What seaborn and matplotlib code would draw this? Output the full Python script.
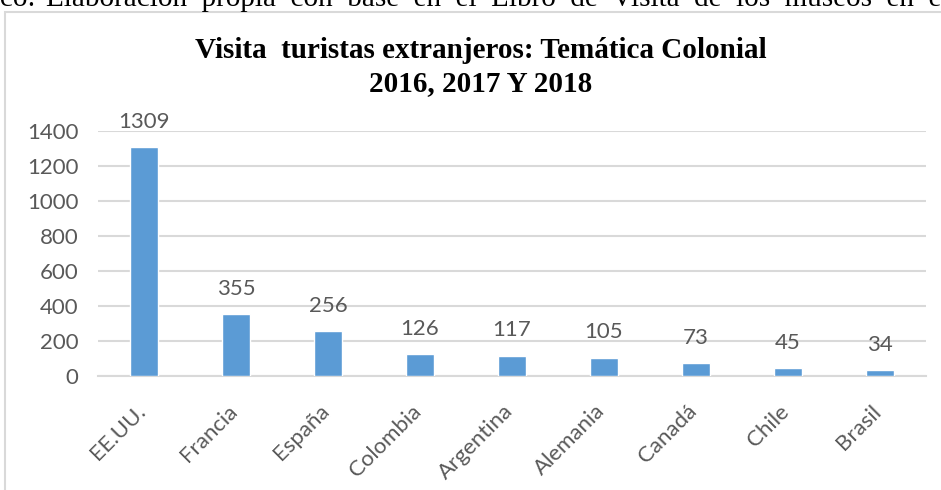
import matplotlib
matplotlib.use("Agg")
import matplotlib.pyplot as plt
import matplotlib.patches as mpatches
import matplotlib.transforms as mtransforms
import seaborn as sns
import pandas as pd

paises = ["EE.UU.", "Francia", "España", "Colombia", "Argentina", "Alemania", "Canadá", "Chile", "Brasil"]
visitas = [1309, 355, 256, 126, 117, 105, 73, 45, 34]
yticks = [0, 200, 400, 600, 800, 1000, 1200, 1400]
titulo = "Visita  turistas extranjeros: Temática Colonial\n2016, 2017 Y 2018"
encabezado_izq = "fico:"
encabezado = "Elaboración  propia  con  base  en  el  Libro  de  Visita  de  los  museos  en  el  periodo"

sns.set_theme(style="white")
plt.rcParams['font.family'] = ['Lato', 'DejaVu Sans']

W, H = 941, 490
fig = plt.figure(figsize=(W / 100, H / 100), dpi=100)
fig.patch.set_facecolor("white")

# outer frame of the chart object
frame = mpatches.Rectangle((5 / W, -0.1), 1.2, 1 - 12 / H + 0.1, transform=fig.transFigure,
                           fill=False, edgecolor="#d9d9d9", linewidth=1.5)
fig.patches.append(frame)

# cropped caption line at top
fig.text(36 / W, 1 - 6 / H, encabezado_izq, family="Liberation Serif", fontsize=21,
         color="black", va="baseline", ha="right")
fig.text(46 / W, 1 - 6 / H, encabezado, family="Liberation Serif", fontsize=21,
         color="black", va="baseline", ha="left")

ax = fig.add_axes([98 / W, 1 - 376 / H, (926 - 98) / W, (376 - 131) / H])
df = pd.DataFrame({"pais": paises, "visitas": visitas})
sns.barplot(data=df, x="pais", y="visitas", color="#5B9BD5", width=0.3, ax=ax,
            saturation=1, zorder=3)

ax.set_ylim(0, 1400)
ax.set_yticks(yticks)
ax.set_xlim(-0.5, len(paises) - 0.5)
ax.grid(axis="y", color="#d9d9d9", linewidth=1.5, zorder=0)
ax.set_axisbelow(True)
for s in ["top", "right", "left"]:
    ax.spines[s].set_visible(False)
ax.spines["bottom"].set_color("#d9d9d9")
ax.spines["bottom"].set_linewidth(1.5)
ax.set_xlabel("")
ax.set_ylabel("")
ax.tick_params(axis="both", length=0, colors="#595959", labelsize=16)
ax.tick_params(axis="y", pad=14)
ax.tick_params(axis="x", pad=13)
offset = mtransforms.ScaledTranslation(-9 / 100, -7 / 100, fig.dpi_scale_trans)
for lab in ax.get_xticklabels():
    lab.set_rotation(45)
    lab.set_ha("right")
    lab.set_rotation_mode("anchor")
    lab.set_transform(lab.get_transform() + offset)

for c in ax.containers:
    ax.bar_label(c, labels=[str(v) for v in visitas], padding=11, fontsize=16,
                 color="#595959", clip_on=False)

fig.text(481 / W, 1 - 67 / H, titulo, family="Liberation Serif", fontweight="bold",
         fontsize=21, ha="center", va="center", linespacing=1.3, color="black")

fig.savefig("out.png", dpi=100)
